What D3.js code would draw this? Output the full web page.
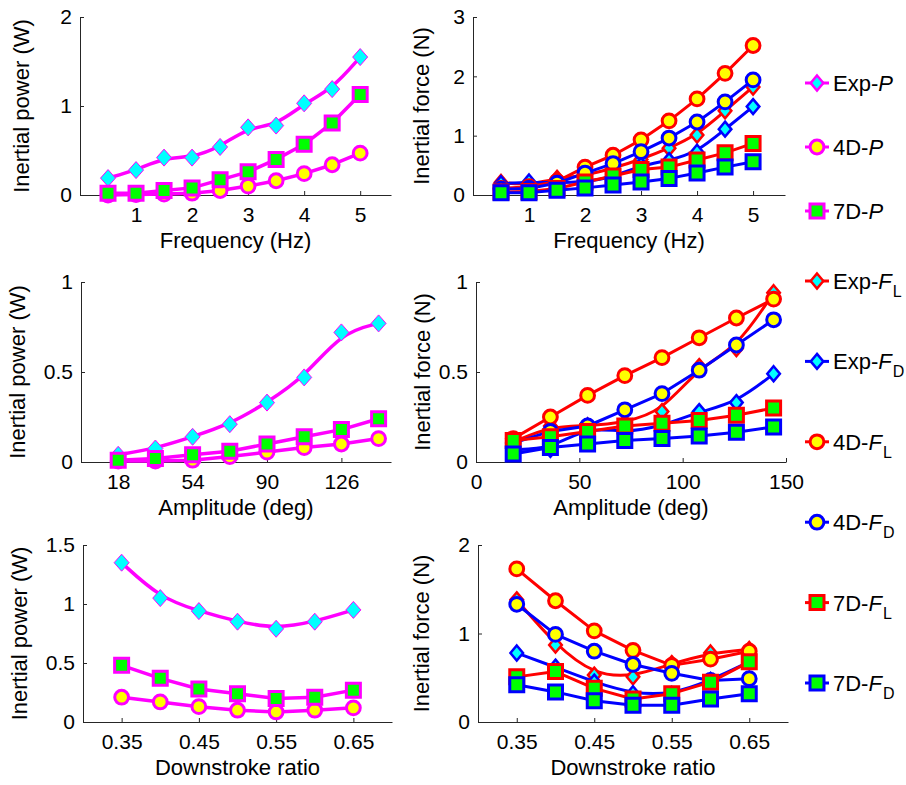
<!DOCTYPE html>
<html><head><meta charset="utf-8">
<script src="https://cdn.jsdelivr.net/npm/d3@7/dist/d3.min.js"></script>
<style>
body{margin:0;background:#fff}
svg{display:block}
text{font-family:"Liberation Sans",Arial,Helvetica,sans-serif;fill:#000}
</style>
</head><body>
<svg id="fig" width="906" height="785"></svg>
<script>
// Sweep variables
const freq  = [0.5, 1, 1.5, 2, 2.5, 3, 3.5, 4, 4.5, 5];        // Hz
const amp   = [18, 36, 54, 72, 90, 108, 126, 144];              // deg
const ratio = [0.35, 0.4, 0.45, 0.5, 0.55, 0.6, 0.65];          // downstroke ratio

// Inertial power (W) vs frequency
const expPFreq = [0.19, 0.28, 0.42, 0.42, 0.54, 0.76, 0.78, 1.03, 1.19, 1.55];
const d4PFreq  = [0.00, 0.005, 0.01, 0.02, 0.05, 0.10, 0.16, 0.24, 0.34, 0.47];
const d7PFreq  = [0.02, 0.02, 0.05, 0.08, 0.17, 0.26, 0.40, 0.57, 0.81, 1.13];
// Inertial force (N) vs frequency
const expFLFreq = [0.21, 0.17, 0.28, 0.33, 0.45, 0.60, 0.79, 1.01, 1.42, 1.82];
const expFDFreq = [0.19, 0.22, 0.20, 0.22, 0.30, 0.50, 0.58, 0.72, 1.11, 1.49];
const d4FLFreq  = [0.11, 0.14, 0.23, 0.47, 0.67, 0.93, 1.25, 1.62, 2.05, 2.52];
const d4FDFreq  = [0.10, 0.11, 0.20, 0.37, 0.53, 0.73, 0.96, 1.23, 1.57, 1.94];
const d7FLFreq  = [0.05, 0.06, 0.11, 0.22, 0.32, 0.43, 0.47, 0.59, 0.71, 0.87];
const d7FDFreq  = [0.04, 0.04, 0.08, 0.12, 0.17, 0.22, 0.28, 0.37, 0.47, 0.56];

// Inertial power (W) vs amplitude
const expPAmp = [0.04, 0.075, 0.14, 0.21, 0.33, 0.47, 0.72, 0.77];
const d4PAmp  = [0.005, 0.005, 0.01, 0.03, 0.055, 0.08, 0.10, 0.13];
const d7PAmp  = [0.01, 0.02, 0.04, 0.06, 0.10, 0.14, 0.18, 0.24];
// Inertial force (N) vs amplitude
const expFLAmp = [0.11, 0.20, 0.20, 0.22, 0.28, 0.53, 0.63, 0.94];
const expFDAmp = [0.07, 0.07, 0.20, 0.16, 0.20, 0.28, 0.33, 0.49];
const d4FLAmp  = [0.13, 0.25, 0.37, 0.48, 0.58, 0.69, 0.80, 0.905];
const d4FDAmp  = [0.105, 0.17, 0.20, 0.29, 0.38, 0.51, 0.65, 0.79];
const d7FLAmp  = [0.12, 0.14, 0.17, 0.20, 0.215, 0.23, 0.26, 0.30];
const d7FDAmp  = [0.045, 0.08, 0.10, 0.12, 0.13, 0.145, 0.165, 0.195];

// Inertial power (W) vs downstroke ratio
const expPRatio = [1.35, 1.05, 0.94, 0.85, 0.79, 0.85, 0.95];
const d4PRatio  = [0.21, 0.17, 0.13, 0.10, 0.085, 0.10, 0.12];
const d7PRatio  = [0.48, 0.37, 0.28, 0.24, 0.20, 0.21, 0.27];
// Inertial force (N) vs downstroke ratio
const expFLRatio = [1.38, 0.87, 0.53, 0.51, 0.66, 0.78, 0.82];
const expFDRatio = [0.78, 0.62, 0.45, 0.32, 0.31, 0.47, 0.68];
const d4FLRatio  = [1.73, 1.37, 1.03, 0.81, 0.64, 0.71, 0.80];
const d4FDRatio  = [1.33, 0.99, 0.80, 0.65, 0.55, 0.47, 0.49];
const d7FLRatio  = [0.51, 0.57, 0.38, 0.26, 0.32, 0.45, 0.68];
const d7FDRatio  = [0.42, 0.34, 0.24, 0.19, 0.19, 0.26, 0.32];

// Axis ticks
const freqTicks  = [1, 2, 3, 4, 5];
const ampTicksP  = [18, 54, 90, 126];
const ampTicksF  = [0, 50, 100, 150];
const ratioTicks = [0.35, 0.45, 0.55, 0.65];
const powerFreqTicks  = [0, 1, 2];
const forceFreqTicks  = [0, 1, 2, 3];
const unitTicks       = [0, 0.5, 1];
const powerRatioTicks = [0, 0.5, 1, 1.5];
const forceRatioTicks = [0, 1, 2];

// Legend entries
const powerKeys = ["Exp-P", "4D-P", "7D-P"];
const forceKeys = ["Exp-FL", "Exp-FD", "4D-FL", "4D-FD", "7D-FL", "7D-FD"];

// Series styles
const MAG = "#ff00ff", RED = "#ff0000", BLUE = "#0000ff";
const CYAN = "#00ffff", YEL = "#ffff00", GRN = "#00ff00";
const styles = {
  "Exp-P":  {color: MAG,  shape: "diamond", fill: CYAN, smooth: true, lw: 3.5, mw: 1},
  "4D-P":   {color: MAG,  shape: "circle",  fill: YEL,  lw: 3.5, mw: 3},
  "7D-P":   {color: MAG,  shape: "square",  fill: GRN,  lw: 3.5, mw: 3},
  "Exp-FL": {color: RED,  shape: "diamondN", fill: CYAN, smooth: true, lw: 3, mw: 2.5},
  "Exp-FD": {color: BLUE, shape: "diamondN", fill: CYAN, smooth: true, lw: 3, mw: 2.5},
  "4D-FL":  {color: RED,  shape: "circle",  fill: YEL,  lw: 3, mw: 3},
  "4D-FD":  {color: BLUE, shape: "circle",  fill: YEL,  lw: 3, mw: 3},
  "7D-FL":  {color: RED,  shape: "square",  fill: GRN,  lw: 3, mw: 3},
  "7D-FD":  {color: BLUE, shape: "square",  fill: GRN,  lw: 3, mw: 3}
};

function markerPath(shape) {
  switch (shape) {
    case "diamond":  return "M0,-8.5L7.5,0L0,8.5L-7.5,0Z";
    case "diamondN": return "M0,-7.5L6.3,0L0,7.5L-6.3,0Z";
    case "square":   return "M-7,-7H7V7H-7Z";
    default:         return d3.arc()({innerRadius: 0, outerRadius: 6.9, startAngle: 0, endAngle: 2 * Math.PI});
  }
}

const panels = [
  {xr: [80, 391], yr: [195, 17], xd: [0, 5.55], yd: [0, 2], xt: freqTicks, yt: powerFreqTicks,
   xlab: "Frequency (Hz)", ylab: "Inertial power (W)", labX: 29, xs: freq,
   series: [["Exp-P", expPFreq], ["4D-P", d4PFreq], ["7D-P", d7PFreq]]},
  {xr: [473, 785], yr: [195, 17], xd: [0, 5.57], yd: [0, 3], xt: freqTicks, yt: forceFreqTicks,
   xlab: "Frequency (Hz)", ylab: "Inertial force (N)", labX: 429, xs: freq,
   series: [["Exp-FL", expFLFreq], ["Exp-FD", expFDFreq], ["4D-FL", d4FLFreq], ["4D-FD", d4FDFreq], ["7D-FL", d7FLFreq], ["7D-FD", d7FDFreq]]},
  {xr: [81, 391], yr: [462, 282], xd: [0, 150], yd: [0, 1], xt: ampTicksP, yt: unitTicks,
   xlab: "Amplitude (deg)", ylab: "Inertial power (W)", labX: 25, xs: amp,
   series: [["Exp-P", expPAmp], ["4D-P", d4PAmp], ["7D-P", d7PAmp]]},
  {xr: [476, 786], yr: [462, 282], xd: [0, 150], yd: [0, 1], xt: ampTicksF, yt: unitTicks,
   xlab: "Amplitude (deg)", ylab: "Inertial force (N)", labX: 430, xs: amp,
   series: [["Exp-FL", expFLAmp], ["Exp-FD", expFDAmp], ["4D-FL", d4FLAmp], ["4D-FD", d4FDAmp], ["7D-FL", d7FLAmp], ["7D-FD", d7FDAmp]]},
  {xr: [83, 392], yr: [722, 545], xd: [0.3, 0.7], yd: [0, 1.5], xt: ratioTicks, yt: powerRatioTicks,
   xlab: "Downstroke ratio", ylab: "Inertial power (W)", labX: 27, xs: ratio,
   series: [["Exp-P", expPRatio], ["4D-P", d4PRatio], ["7D-P", d7PRatio]]},
  {xr: [478, 788], yr: [722, 545], xd: [0.3, 0.7], yd: [0, 2], xt: ratioTicks, yt: forceRatioTicks,
   xlab: "Downstroke ratio", ylab: "Inertial force (N)", labX: 429, xs: ratio,
   series: [["Exp-FL", expFLRatio], ["Exp-FD", expFDRatio], ["4D-FL", d4FLRatio], ["4D-FD", d4FDRatio], ["7D-FL", d7FLRatio], ["7D-FD", d7FDRatio]]}
];

const svg = d3.select("#fig");
const TICK_FS = 21, LABEL_FS = 22;

panels.forEach(p => {
  const x = d3.scaleLinear().domain(p.xd).range(p.xr);
  const y = d3.scaleLinear().domain(p.yd).range(p.yr);
  const g = svg.append("g");

  const xAxis = g.append("g").attr("transform", `translate(0,${p.yr[0]})`)
    .call(d3.axisBottom(x).tickValues(p.xt).tickSizeInner(-4).tickSizeOuter(0).tickPadding(12).tickFormat(d => String(d)));
  const yAxis = g.append("g").attr("transform", `translate(${p.xr[0]},0)`)
    .call(d3.axisLeft(y).tickValues(p.yt).tickSizeInner(-4).tickSizeOuter(0).tickPadding(8).tickFormat(d => String(d)));
  [xAxis, yAxis].forEach(a => {
    a.selectAll("path,line").attr("stroke", "#262626").attr("stroke-width", 1);
    a.selectAll("text").attr("font-size", TICK_FS).attr("font-family", null).attr("fill", "#000");
  });

  g.append("text").attr("x", (p.xr[0] + p.xr[1]) / 2).attr("y", p.yr[0] + 53)
    .attr("text-anchor", "middle").attr("font-size", LABEL_FS).text(p.xlab);
  g.append("text").attr("transform", `translate(${p.labX},${(p.yr[0] + p.yr[1]) / 2}) rotate(-90)`)
    .attr("text-anchor", "middle").attr("font-size", LABEL_FS).text(p.ylab);

  p.series.forEach(([key, vals]) => {
    const s = styles[key];
    const pts = p.xs.map((xv, i) => [xv, vals[i]]);
    const line = d3.line().x(d => x(d[0])).y(d => y(d[1]))
      .curve(s.smooth ? d3.curveBasis : d3.curveLinear);
    const sg = g.append("g");
    sg.append("path").attr("d", line(pts)).attr("fill", "none")
      .attr("stroke", s.color).attr("stroke-width", s.lw).attr("stroke-linejoin", "round");
    sg.selectAll("path.mk").data(pts).join("path").attr("class", "mk")
      .attr("transform", d => `translate(${x(d[0])},${y(d[1])})`)
      .attr("d", markerPath(s.shape))
      .attr("fill", s.fill).attr("stroke", s.color).attr("stroke-width", s.mw);
  });
});

// Legend
function drawLegend(keys, y0, step) {
  const ly = d3.scalePoint().domain(keys).range([y0, y0 + step * (keys.length - 1)]);
  keys.forEach(k => {
    const s = styles[k];
    const g = svg.append("g").attr("transform", `translate(817,${ly(k)})`);
    g.append("line").attr("x1", -12).attr("x2", 12).attr("stroke", s.color).attr("stroke-width", 3);
    g.append("path").attr("d", markerPath(s.shape === "diamond" ? "diamondN" : s.shape))
      .attr("fill", s.fill).attr("stroke", s.color).attr("stroke-width", s.shape === "diamond" ? 2.5 : s.mw);
    const [pre, sym] = k.split("-");
    const t = g.append("text").attr("x", 16).attr("y", 8).attr("font-size", 22);
    t.append("tspan").text(pre + "-");
    t.append("tspan").attr("font-style", "italic").text(sym[0]);
    if (sym.length > 1) {
      t.append("tspan").attr("font-size", 16).attr("dx", 1).attr("dy", 8).text(sym.slice(1));
    }
  });
}
drawLegend(powerKeys, 83, 64);
drawLegend(forceKeys, 281, 80.4);
</script>
</body></html>
